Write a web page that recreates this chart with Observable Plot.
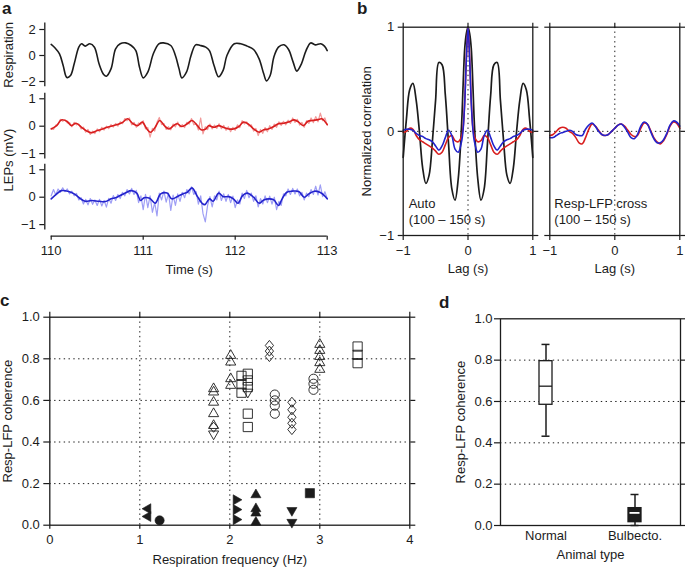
<!DOCTYPE html>
<html>
<head>
<meta charset="utf-8">
<script src="https://cdn.jsdelivr.net/npm/d3@7"></script>
<script src="https://cdn.jsdelivr.net/npm/@observablehq/plot@0.6"></script>
<style>
  html, body { margin: 0; padding: 0; background: #ffffff; }
  #chart { position: relative; width: 685px; height: 568px; overflow: hidden;
           font-family: "Liberation Sans", Arial, Helvetica, sans-serif; color: #1c1c1c; }
  #chart svg { position: absolute; left: 0; top: 0; }
  .letter { position: absolute; font-weight: bold; font-size: 17px; line-height: 17px; }
</style>
</head>
<body>
<div id="chart"></div>
<script>
// ---------------- Panel a : traces ----------------
const timeDomain = [110, 113];
const timeTicks = [110, 111, 112, 113];
const respTicks = [-2, 0, 2];
const respAxisRange = [-2.4, 2.5];
const lfpTicks = [-1, 0, 1];
const lfpAxisRange = [-1.2, 1.2];

const respTime = [110.00,110.04,110.09,110.13,110.17,110.21,110.25,110.30,110.33,110.37,110.42,110.47,110.52,110.57,110.60,110.65,110.70,110.75,110.81,110.87,110.92,110.96,111.00,111.05,111.11,111.17,111.22,111.30,111.35,111.39,111.42,111.47,111.52,111.57,111.62,111.68,111.72,111.77,111.82,111.87,111.91,111.99,112.06,112.13,112.20,112.26,112.31,112.34,112.38,112.42,112.47,112.53,112.58,112.63,112.67,112.72,112.77,112.82,112.87,112.93,112.97,113.00];
const respValue = [0.85,0.59,0.13,-0.77,-1.69,-1.54,-0.64,0.64,0.90,0.72,0.90,0.64,-0.64,-1.46,-1.59,-1.03,0.51,0.90,0.97,0.77,0.38,-0.90,-1.72,-1.28,0.13,0.90,0.97,0.77,0.00,-1.03,-1.72,-1.28,0.00,0.82,0.77,0.64,0.38,-0.77,-1.64,-1.13,0.00,0.90,0.90,0.72,0.46,-0.26,-1.41,-1.95,-1.54,-0.13,0.64,0.82,0.46,-0.51,-1.20,-0.64,0.38,0.97,0.82,0.90,0.72,0.38];

const redTime = [110.00,110.06,110.11,110.17,110.22,110.27,110.33,110.38,110.44,110.50,110.56,110.61,110.67,110.72,110.78,110.83,110.89,110.94,110.99,111.04,111.08,111.13,111.18,111.23,111.28,111.33,111.37,111.42,111.48,111.53,111.59,111.63,111.68,111.71,111.77,111.82,111.87,111.93,111.98,112.04,112.09,112.15,112.20,112.26,112.31,112.36,112.42,112.47,112.53,112.58,112.64,112.69,112.74,112.79,112.84,112.90,112.94,113.00];
const redValue = [-0.10,0.02,0.23,0.18,0.02,0.11,-0.04,-0.16,-0.24,-0.16,-0.10,-0.04,0.02,0.06,0.15,0.27,0.09,0.02,0.15,-0.10,-0.22,-0.04,0.21,0.02,-0.10,0.02,0.09,-0.01,0.09,0.21,0.02,-0.13,-0.10,0.02,-0.04,0.02,-0.04,-0.10,-0.10,-0.01,0.15,0.06,-0.10,-0.22,-0.13,-0.10,-0.01,0.09,0.11,0.15,0.23,0.15,0.02,0.18,0.21,0.24,0.27,0.06];

const blueTime = [110.00,110.06,110.11,110.18,110.25,110.32,110.37,110.44,110.52,110.59,110.65,110.70,110.75,110.81,110.87,110.93,110.97,111.01,111.07,111.13,111.19,111.26,111.31,111.37,111.43,111.48,111.53,111.59,111.64,111.67,111.72,111.76,111.82,111.87,111.93,111.98,112.03,112.08,112.13,112.20,112.26,112.31,112.37,112.42,112.47,112.51,112.56,112.62,112.69,112.75,112.80,112.86,112.92,112.97,113.00];
const blueValue = [-0.06,0.12,0.24,0.22,0.12,-0.06,-0.15,-0.12,-0.15,-0.16,-0.06,-0.02,0.06,0.16,0.24,0.15,-0.12,-0.02,-0.04,-0.22,0.12,0.15,-0.06,0.02,0.12,0.18,0.34,0.02,-0.22,-0.27,-0.06,-0.15,0.15,0.02,0.02,-0.06,-0.22,0.06,0.15,0.00,-0.22,-0.10,-0.06,-0.10,-0.30,-0.06,0.18,0.22,0.21,0.00,0.12,0.22,0.18,0.06,-0.06];

// unfiltered LFP, sampled every 25 ms from 110 s
const rawStart = 110;
const rawStep = 0.025;
const redRaw = [
  -0.08,-0.12,0.04,0.06,0.25,0.18,0.24,0.12,0.13,-0.02,
  0.14,0.05,0.08,-0.10,-0.03,-0.22,-0.12,-0.30,-0.18,-0.27,
  -0.10,-0.20,-0.04,-0.14,0.00,-0.09,0.06,-0.03,0.10,0.00,
  0.16,0.09,0.28,0.20,0.30,0.05,0.14,-0.04,0.12,0.06,
  0.20,-0.10,-0.05,-0.40,-0.08,-0.18,0.14,0.32,0.06,0.10,
  -0.12,-0.02,-0.13,0.08,-0.02,0.15,-0.03,0.06,-0.05,0.14,
  0.08,0.28,0.05,0.10,-0.14,0.30,-0.28,-0.02,-0.12,0.08,
  -0.10,0.04,-0.08,0.09,-0.09,0.03,-0.15,-0.02,-0.20,-0.04,
  -0.15,0.05,-0.05,0.20,0.08,0.16,0.00,0.05,-0.18,-0.08,
  -0.34,-0.12,-0.26,-0.05,-0.20,0.02,-0.12,0.08,-0.04,0.16,
  0.03,0.18,0.05,0.22,0.10,0.30,0.14,0.25,0.04,0.14,
  -0.04,0.20,0.10,0.30,0.13,0.35,0.16,0.48,0.20,0.30,
  0.04];
const blueRaw = [
  0.05,0.28,0.08,0.30,0.18,0.34,0.20,0.30,0.12,0.22,
  0.05,0.14,-0.10,-0.02,-0.25,-0.08,-0.28,-0.05,-0.26,-0.10,
  -0.30,-0.08,-0.32,-0.12,-0.36,-0.04,-0.22,0.06,-0.12,0.10,
  -0.05,0.18,0.05,0.28,0.12,0.32,0.10,0.25,-0.20,0.05,
  -0.45,0.10,-0.38,0.05,-0.55,-0.20,-0.68,0.15,-0.10,0.22,
  -0.18,0.15,-0.48,0.08,-0.30,0.12,-0.15,0.18,-0.02,0.28,
  0.12,0.38,0.10,0.20,-0.25,0.05,-0.60,-0.90,-0.30,0.02,
  -0.35,0.05,-0.10,0.22,-0.12,0.12,-0.15,0.10,-0.20,0.04,
  -0.38,-0.10,-0.25,0.15,-0.05,0.25,-0.02,0.15,-0.15,0.05,
  -0.35,-0.05,-0.25,0.05,-0.20,0.04,-0.25,0.00,-0.45,-0.15,
  -0.30,0.12,0.05,0.30,0.10,0.32,0.12,0.30,0.05,0.18,
  -0.10,0.15,0.02,0.28,0.10,0.40,0.08,0.45,0.02,0.20,
  -0.05];

// ---------------- Panel b : correlations ----------------
const lagDomain = [-1, 1];
const corrDomain = [-1, 1];
const corrTicks = [-1, 0, 1];
const autoLag = [-1,-0.95,-0.9,-0.85,-0.8,-0.75,-0.7,-0.65,-0.6,-0.55,-0.5,-0.45,-0.4,-0.35,-0.3,-0.25,-0.2,-0.15,-0.1,-0.075,-0.05,-0.025,0,0.025,0.05,0.075,0.1,0.15,0.2,0.25,0.3,0.35,0.4,0.45,0.5,0.55,0.6,0.65,0.7,0.75,0.8,0.85,0.9,0.95,1];
const autoResp = [-0.25,0.12,0.40,0.46,0.30,0.00,-0.35,-0.50,-0.42,-0.10,0.30,0.66,0.64,0.35,-0.12,-0.55,-0.66,-0.45,0.05,0.45,0.80,0.94,1.00,0.94,0.80,0.45,0.05,-0.45,-0.66,-0.55,-0.12,0.35,0.64,0.66,0.30,-0.10,-0.42,-0.50,-0.35,0.00,0.30,0.46,0.40,0.12,-0.25];
const autoRed = [-0.01,0.00,0.03,0.02,-0.04,-0.08,-0.10,-0.12,-0.14,-0.16,-0.19,-0.22,-0.20,-0.13,-0.06,-0.04,-0.09,-0.10,-0.05,0.04,0.30,0.72,1.00,0.72,0.30,0.04,-0.05,-0.10,-0.09,-0.04,-0.06,-0.13,-0.20,-0.22,-0.19,-0.16,-0.14,-0.12,-0.10,-0.08,-0.04,0.02,0.03,0.00,-0.01];
const autoBlue = [0.01,0.02,0.02,0.01,-0.02,-0.04,-0.05,-0.07,-0.08,-0.10,-0.14,-0.18,-0.14,-0.06,0.01,-0.04,-0.17,-0.20,-0.10,0.02,0.28,0.70,1.00,0.70,0.28,0.02,-0.10,-0.20,-0.17,-0.04,0.01,-0.06,-0.14,-0.18,-0.14,-0.10,-0.08,-0.07,-0.05,-0.04,-0.02,0.01,0.02,0.02,0.01];
const crossLag = [-1,-0.95,-0.9,-0.85,-0.8,-0.75,-0.7,-0.65,-0.6,-0.55,-0.5,-0.45,-0.4,-0.35,-0.3,-0.25,-0.2,-0.15,-0.1,-0.05,0,0.05,0.1,0.15,0.2,0.25,0.3,0.35,0.4,0.45,0.5,0.55,0.6,0.65,0.7,0.75,0.8,0.85,0.9,0.95,1];
const crossRed = [-0.04,-0.03,0.00,0.03,0.04,0.03,0.00,-0.02,-0.06,-0.11,-0.12,-0.06,0.02,0.07,0.05,0.01,-0.03,-0.04,-0.03,0.00,0.03,0.06,0.07,0.05,0.01,-0.03,-0.05,-0.04,0.03,0.08,0.07,0.01,-0.06,-0.10,-0.12,-0.09,-0.03,0.05,0.09,0.08,0.03];
const crossBlue = [-0.06,-0.06,-0.04,-0.02,-0.01,0.00,0.01,0.00,-0.03,-0.04,-0.04,0.02,0.06,0.08,0.05,0.00,-0.03,-0.04,-0.03,0.00,0.03,0.06,0.07,0.04,-0.01,-0.06,-0.07,-0.03,0.05,0.09,0.07,0.00,-0.07,-0.11,-0.11,-0.08,-0.02,0.06,0.10,0.09,0.05];

// ---------------- Panel c : coherence vs frequency ----------------
const freqDomain = [0, 4];
const freqTicks = [0, 1, 2, 3, 4];
const freqGrid = [1, 2, 3];
const cohDomain = [0, 1];
const cohTicks = [0, 0.2, 0.4, 0.6, 0.8, 1.0];
const cohGrid = [0.2, 0.4, 0.6, 0.8];
const cFreq = [1.82,1.82,1.82,1.82,1.82,1.82,1.82, 2.01,2.01,2.01,2.01, 2.13,2.13,2.13,2.2,2.2,2.2,2.2,2.2,2.2, 2.44,2.44,2.44, 2.5,2.5,2.5,2.5, 2.69,2.69,2.69,2.69,2.69, 2.93,2.93,2.93, 3.0,3.0,3.0,3.0,3.0, 3.42,3.42,3.42,
  1.09,1.09,1.22,2.07,2.07,2.07,2.29,2.29,2.29,2.29,2.69,2.69,2.89];
const cCoh = [0.656,0.640,0.591,0.536,0.479,0.471,0.439, 0.816,0.784,0.704,0.672, 0.718,0.678,0.637,0.728,0.696,0.664,0.640,0.536,0.472, 0.864,0.837,0.811, 0.628,0.600,0.575,0.536, 0.591,0.555,0.519,0.490,0.460, 0.704,0.680,0.651, 0.869,0.840,0.811,0.781,0.749, 0.859,0.819,0.779,
  0.079,0.042,0.023,0.122,0.075,0.027,0.146,0.079,0.058,0.014,0.071,0.014,0.154];
const cMarker = ["tri-up","tri-up","tri-up","tri-up","tri-up","diamond","tri-down", "tri-up","tri-up","tri-up","tri-up", "square","square","square","square","square","square","tri-down","square","square", "diamond","diamond","diamond", "circle","circle","circle","circle", "diamond","diamond","diamond","diamond","diamond", "circle","circle","circle", "tri-up","tri-up","tri-up","tri-up","tri-up", "square","square","square",
  "tri-left","tri-left","circle","tri-right","tri-right","tri-right","tri-up","tri-up","tri-up","tri-up","tri-down","tri-down","square"];
const cAnimal = [...Array(43).fill("Normal"), ...Array(13).fill("Bulbecto.")];

// ---------------- Panel d : box summary ----------------
const boxTypes = ["Normal", "Bulbecto."];
const boxMin = [0.432, 0.0];
const boxQ1 = [0.584, 0.016];
const boxMedian = [0.674, 0.061];
const boxQ3 = [0.795, 0.084];
const boxMax = [0.876, 0.150];

// ---------------- drawing ----------------
const FONT = "'Liberation Sans', Arial, Helvetica, sans-serif";
const INK = "#1c1c1c";
const RED = "#d81e1e", RED_LIGHT = "#f29a9a";
const BLUE = "#2323cc", BLUE_LIGHT = "#9e9ef5";
const DOTS = "1.4,3.4";
const INT = d3.format("d");
const ONE = d3.format(".1f");
const chart = document.getElementById("chart");

function addPlot(options) {
  const svg = Plot.plot({
    width: 685, height: 568, ...options,
    style: `background: transparent; overflow: visible; font-family: ${FONT}; font-size: 13px; color: ${INK};`
  });
  chart.appendChild(svg);
}
// a single label anchored to the frame, centred on its anchor point
function label(text, frameAnchor, opts = {}) {
  return Plot.text([text], {frameAnchor, textAnchor: "middle", lineAnchor: "middle", ...opts});
}

const respRows = respTime.map((t, i) => ({t, v: respValue[i]}));
const redRows = redTime.map((t, i) => ({t, v: redValue[i]}));
const blueRows = blueTime.map((t, i) => ({t, v: blueValue[i]}));
const redRawRows = redRaw.map((v, i) => ({t: rawStart + i * rawStep, v}));
const blueRawRows = blueRaw.map((v, i) => ({t: rawStart + i * rawStep, v}));

// a: respiration
addPlot({
  marginLeft: 50.7, marginRight: 358.3, marginTop: 22.5, marginBottom: 481.8,
  x: {domain: timeDomain, axis: null}, y: {domain: respAxisRange},
  marks: [
    Plot.ruleX([timeDomain[0]], {y1: respAxisRange[0], y2: respAxisRange[1], dx: -6.4, strokeWidth: 1.3}),
    Plot.axisY({ticks: respTicks, tickSize: 5, tickPadding: 4, tickFormat: INT, dx: -6.4, label: null, strokeWidth: 1.2}),
    Plot.line(respRows, {x: "t", y: "v", curve: "catmull-rom", stroke: INK, strokeWidth: 1.6}),
    label("Respiration", "left", {rotate: -90, dx: -42})
  ]
});
// a: red LFP
addPlot({
  marginLeft: 50.7, marginRight: 358.3, marginTop: 92.8, marginBottom: 409.4,
  x: {domain: timeDomain, axis: null}, y: {domain: lfpAxisRange},
  marks: [
    Plot.ruleX([timeDomain[0]], {y1: lfpAxisRange[0], y2: lfpAxisRange[1], dx: -6.4, strokeWidth: 1.3}),
    Plot.axisY({ticks: lfpTicks, tickSize: 5, tickPadding: 4, tickFormat: INT, dx: -6.4, label: null, strokeWidth: 1.2}),
    Plot.line(redRawRows, {x: "t", y: "v", stroke: RED_LIGHT, strokeWidth: 1.2}),
    Plot.line(redRows, {x: "t", y: "v", curve: "catmull-rom", stroke: RED, strokeWidth: 1.6}),
    label("LEPs (mV)", "bottom-left", {rotate: -90, dx: -42, dy: 1})
  ]
});
// a: blue LFP + time axis
addPlot({
  marginLeft: 50.7, marginRight: 358.3, marginTop: 163.8, marginBottom: 338.4,
  x: {domain: timeDomain}, y: {domain: lfpAxisRange},
  marks: [
    Plot.ruleX([timeDomain[0]], {y1: lfpAxisRange[0], y2: lfpAxisRange[1], dx: -6.4, strokeWidth: 1.3}),
    Plot.axisY({ticks: lfpTicks, tickSize: 5, tickPadding: 4, tickFormat: INT, dx: -6.4, label: null, strokeWidth: 1.2}),
    Plot.ruleY([lfpAxisRange[0]], {x1: timeDomain[0], x2: timeDomain[1], dy: 6.1, strokeWidth: 1.3}),
    Plot.axisX({ticks: timeTicks, tickSize: 4, tickPadding: 6, tickFormat: INT, dy: 6.1, label: null, strokeWidth: 1.2}),
    Plot.line(blueRawRows, {x: "t", y: "v", stroke: BLUE_LIGHT, strokeWidth: 1.2}),
    Plot.line(blueRows, {x: "t", y: "v", curve: "catmull-rom", stroke: BLUE, strokeWidth: 1.6}),
    label("Time (s)", "bottom", {dy: 40})
  ]
});

// b
const autoRows = autoLag.map((lag, i) => ({lag, resp: autoResp[i], red: autoRed[i], blue: autoBlue[i]}));
const crossRows = crossLag.map((lag, i) => ({lag, red: crossRed[i], blue: crossBlue[i]}));
function corrMarks(rows, withRespiration, withYLabels) {
  return [
    Plot.ruleY([0], {strokeDasharray: DOTS, stroke: INK}),
    Plot.ruleX([0], {strokeDasharray: DOTS, stroke: INK}),
    withRespiration ? Plot.line(rows, {x: "lag", y: "resp", curve: "catmull-rom", stroke: INK, strokeWidth: 1.7}) : null,
    Plot.line(rows, {x: "lag", y: "red", curve: "catmull-rom", stroke: RED, strokeWidth: 1.6}),
    Plot.line(rows, {x: "lag", y: "blue", curve: "catmull-rom", stroke: BLUE, strokeWidth: 1.6}),
    Plot.frame({strokeWidth: 1.3}),
    Plot.axisX({anchor: "bottom", ticks: corrTicks, tickSize: 5, tickPadding: 5, tickFormat: INT, label: null, strokeWidth: 1.2}),
    Plot.axisX({anchor: "top", ticks: corrTicks, tickSize: 5, fill: "none", label: null, strokeWidth: 1.2}),
    Plot.axisY({anchor: "left", ticks: corrTicks, tickSize: 5, tickPadding: 4, tickFormat: INT, label: null, strokeWidth: 1.2, fill: withYLabels ? INK : "none"}),
    Plot.axisY({anchor: "right", ticks: corrTicks, tickSize: 5, fill: "none", label: null, strokeWidth: 1.2}),
    label("Lag (s)", "bottom", {dy: 33.5})
  ];
}
function cornerNote(text, dx, dy) {
  return Plot.text([text], {frameAnchor: "bottom-left", textAnchor: "start", lineAnchor: "middle", dx, dy});
}
addPlot({
  marginLeft: 402.7, marginRight: 152.7, marginTop: 26.7, marginBottom: 333,
  x: {domain: lagDomain}, y: {domain: corrDomain},
  marks: [
    ...corrMarks(autoRows, true, true),
    label("Normalized correlation", "left", {rotate: -90, dx: -36}),
    cornerNote("Auto", 5.5, -31.5),
    cornerNote("(100 – 150 s)", 5.5, -15.5)
  ]
});
addPlot({
  marginLeft: 549.3, marginRight: 5.7, marginTop: 26.7, marginBottom: 333,
  x: {domain: lagDomain}, y: {domain: corrDomain},
  marks: [
    ...corrMarks(crossRows, false, false),
    cornerNote("Resp-LFP cross", 4.5, -31.5),
    cornerNote("(100 – 150 s)", 4.5, -15.5)
  ]
});

// c
const diamondSymbol = {
  draw(context, size) {
    const s = Math.sqrt(size / Math.PI);
    context.moveTo(0, -1.1 * s);
    context.lineTo(0.9 * s, 0);
    context.lineTo(0, 1.1 * s);
    context.lineTo(-0.9 * s, 0);
    context.closePath();
  }
};
const markerStyle = {
  "tri-up": {symbol: "triangle", rotate: 0, r: 3.75},
  "tri-down": {symbol: "triangle", rotate: 180, r: 3.75},
  "tri-left": {symbol: "triangle", rotate: -90, r: 3.75},
  "tri-right": {symbol: "triangle", rotate: 90, r: 3.75},
  "square": {symbol: "square", rotate: 0, r: 5.2},
  "circle": {symbol: "circle", rotate: 0, r: 4.6},
  "diamond": {symbol: diamondSymbol, rotate: 0, r: 4.6}
};
const cRows = cFreq.map((f, i) => ({freq: f, coh: cCoh[i], marker: cMarker[i], animal: cAnimal[i]}));
const dotMarks = [];
for (const kind of Object.keys(markerStyle)) {
  for (const animal of boxTypes) {
    const rows = cRows.filter(d => d.marker === kind && d.animal === animal);
    if (!rows.length) continue;
    const filled = animal === boxTypes[1];
    dotMarks.push(Plot.dot(rows, {
      x: "freq", y: "coh", ...markerStyle[kind],
      fill: filled ? INK : "none", stroke: INK, strokeWidth: filled ? 0.6 : 0.9
    }));
  }
}
addPlot({
  marginLeft: 49.3, marginRight: 275.7, marginTop: 316.7, marginBottom: 43.3,
  x: {domain: freqDomain}, y: {domain: cohDomain},
  marks: [
    Plot.ruleX(freqGrid, {strokeDasharray: DOTS, stroke: INK}),
    Plot.ruleY(cohGrid, {strokeDasharray: DOTS, stroke: INK}),
    Plot.frame({strokeWidth: 1.3}),
    Plot.axisX({anchor: "bottom", ticks: freqTicks, tickSize: 4, tickPadding: 6, tickFormat: INT, label: null, strokeWidth: 1.2}),
    Plot.axisX({anchor: "top", ticks: freqTicks, tickSize: 6, fill: "none", label: null, strokeWidth: 1.2}),
    Plot.axisY({anchor: "left", ticks: cohTicks, tickSize: 6, tickPadding: 4, tickFormat: ONE, label: null, strokeWidth: 1.2}),
    Plot.axisY({anchor: "right", ticks: cohTicks, tickSize: 5, fill: "none", label: null, strokeWidth: 1.2}),
    ...dotMarks,
    label("Respiration frequency (Hz)", "bottom", {dy: 34.5}),
    label("Resp-LFP coherence", "left", {rotate: -90, dx: -41.8})
  ]
});

// d
const boxRows = boxTypes.map((type, i) => ({type, min: boxMin[i], q1: boxQ1[i], median: boxMedian[i], q3: boxQ3[i], max: boxMax[i]}));
addPlot({
  marginLeft: 500, marginRight: 5, marginTop: 318.3, marginBottom: 43,
  x: {type: "band", domain: boxTypes, paddingInner: 0.854, paddingOuter: 0.438},
  y: {domain: cohDomain},
  color: {domain: boxTypes, range: ["white", INK]},
  marks: [
    Plot.ruleY(cohGrid, {strokeDasharray: DOTS, stroke: INK}),
    Plot.frame({strokeWidth: 1.3}),
    Plot.axisY({anchor: "left", ticks: cohTicks, tickSize: 6, tickPadding: 2, tickFormat: ONE, label: null, strokeWidth: 1.2}),
    Plot.axisY({anchor: "right", ticks: cohTicks, tickSize: 5, fill: "none", label: null, strokeWidth: 1.2}),
    Plot.axisX({anchor: "bottom", tickSize: 0, tickPadding: 5, label: null}),
    Plot.ruleX(boxRows, {x: "type", y1: "min", y2: "max", stroke: INK, strokeWidth: 1.5}),
    Plot.tickY(boxRows, {x: "type", y: "max", stroke: INK, strokeWidth: 1.5, insetLeft: 2.5, insetRight: 2.5}),
    Plot.tickY(boxRows, {x: "type", y: "min", stroke: INK, strokeWidth: 1.5, insetLeft: 2.5, insetRight: 2.5}),
    Plot.barY(boxRows, {x: "type", y1: "q1", y2: "q3", fill: "type", stroke: INK, strokeWidth: 1.3}),
    Plot.tickY(boxRows, {filter: d => d.type === boxTypes[0], x: "type", y: "median", stroke: INK, strokeWidth: 1.3}),
    Plot.tickY(boxRows, {filter: d => d.type === boxTypes[1], x: "type", y: "median", stroke: "white", strokeWidth: 1.8, insetLeft: 1.5, insetRight: 1.5}),
    label("Animal type", "bottom", {dy: 29}),
    label("Resp-LFP coherence", "left", {rotate: -90, dx: -40})
  ]
});

// panel letters
for (const [letter, left, top] of [["a", 2, 0], ["b", 357, 0], ["c", 0, 292], ["d", 439, 294]]) {
  const div = document.createElement("div");
  div.className = "letter";
  div.textContent = letter;
  div.style.left = left + "px";
  div.style.top = top + "px";
  chart.appendChild(div);
}
</script>
</body>
</html>
